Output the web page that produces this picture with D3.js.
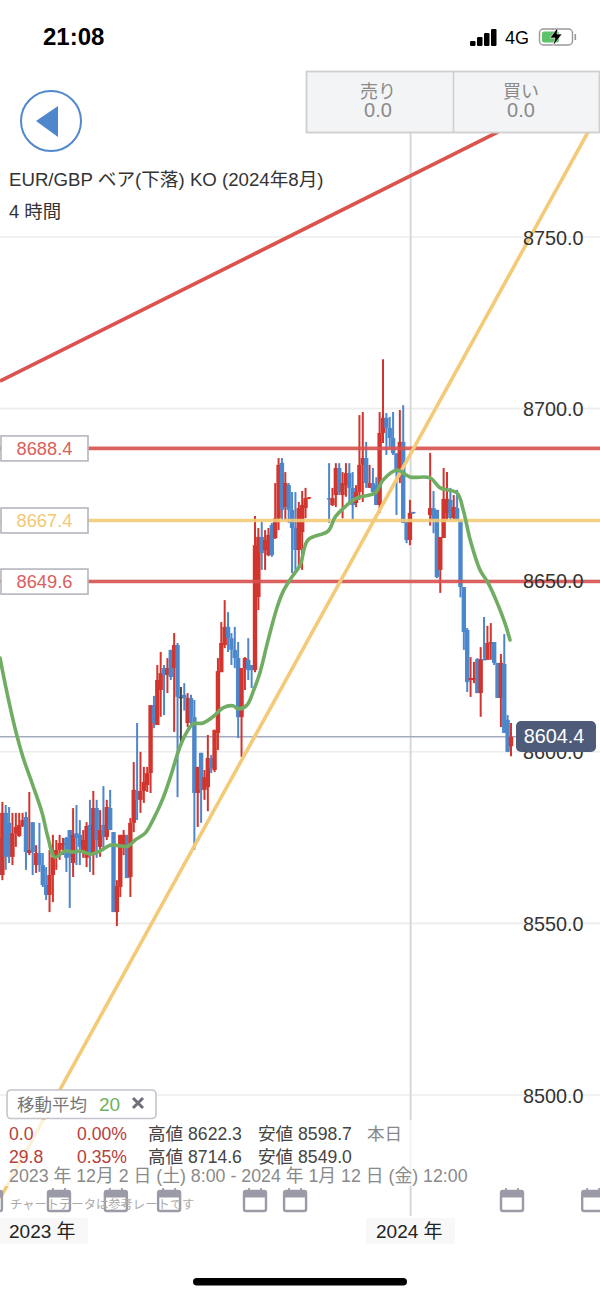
<!DOCTYPE html>
<html><head><meta charset="utf-8">
<script src="https://cdn.jsdelivr.net/npm/d3@7/dist/d3.min.js"></script>
<style>
html,body{margin:0;padding:0;background:#fff;overflow:hidden}
svg{display:block}
text{font-family:"Liberation Sans","Noto Sans CJK JP",sans-serif}
</style></head><body>
<svg id="c" width="600" height="1299"></svg>
<script>
const opens=[8574.9,8564.1,8582.2,8579.3,8569.4,8576.3,8575.5,8578.4,8581,8570.5,8579.5,8567,8570.5,8567,8561.2,8558.3,8564.1,8569.4,8571.4,8572.8,8574.9,8577.2,8567.6,8576.3,8575.8,8571.4,8569.1,8578.7,8569.9,8583.6,8572.3,8578.7,8575.2,8583.6,8576.6,8553.3,8560.6,8572.8,8572.8,8563.5,8579.3,8588.6,8586,8588.6,8590.3,8593.8,8613.6,8607.8,8618,8624.4,8622.4,8629.7,8624.4,8631.1,8616,8616.6,8608.4,8615.7,8610.1,8588,8599.7,8588.9,8589.7,8598.2,8594.7,8605.5,8623.2,8631.1,8636.4,8633.1,8629.7,8627.3,8610.1,8624.4,8626.8,8625.3,8623.8,8645.1,8662.6,8658.8,8657.3,8666.1,8662.3,8668,8684.2,8671.3,8677.7,8670.5,8665.2,8658.8,8664,8671,8673.9,null,null,null,null,null,8673.9,8671.9,8674.8,8682.7,8674.8,8677.7,8681.2,8676.9,8672.5,8675.7,8683.6,8685.6,8676.9,8678.3,8677.7,8671.9,8692.9,8697.3,8694.4,8691.4,8687,8680.6,8690.3,8667,8661.7,8669.9,null,null,null,null,8669,8671,8670.5,8653,8662.3,8669.6,8673.4,8668.1,8671,8667.5,8648,8635.5,8620.9,8620.9,8627,8617.1,8627,8626.8,8631.7,8632,8625.9,8615.7,8625.6,8609.3,8601.6];
const highs=[8578.1,8585.4,8584.5,8583.9,8582.2,8582.2,8582.2,8582.2,8582.5,8588.3,8579.5,8572.8,8579.3,8570.5,8566.4,8571.4,8575.8,8574.3,8575.8,8574.9,8575.2,8577.2,8583.6,8584.5,8580.1,8577.2,8579.5,8586,8588.6,8586,8583,8590,8586,8588.9,8576.6,8562.6,8575.8,8577.2,8575.8,8580.7,8597,8608.4,8600,8595.6,8595.6,8613.6,8616.3,8625.3,8629.1,8625.3,8627.3,8629.7,8634.6,8631.7,8618.9,8620,8617.1,8616.6,8615.1,8595.6,8599.7,8594.7,8604.9,8599.1,8606.4,8627.3,8637.8,8644.2,8640.7,8634.6,8636.4,8632,8624.4,8627.6,8633.1,8625.3,8668.7,8665.2,8667,8664.6,8665.2,8666.7,8678.3,8685.6,8685.6,8681.5,8678.3,8675.7,8675.7,8672.8,8676,8676.9,8674.2,null,null,null,null,null,8684.1,8676.9,8684.1,8684.1,8681.5,8684.1,8684.1,8681.5,8677.7,8698.1,8699,8690.3,8683.6,8682.7,8680,8699,8714.4,8698.7,8697.6,8699,8687,8699.6,8701,8667,8673.4,8669.9,null,null,null,null,8687.1,8676,8670.5,8662.6,8682.7,8681.5,8676.9,8674.8,8676.3,8667.5,8648,8636.1,8627.6,8626.2,8627.3,8630.5,8639.3,8636.7,8637.5,8632,8625.9,8628.5,8634.3,8610.7,8608.4];
const lows=[8554.8,8562.6,8565.6,8567.6,8567,8572.3,8575.2,8578.1,8565.6,8569.9,8564.1,8564.7,8565,8560.6,8556.8,8553.3,8556.2,8565.6,8568.5,8569.9,8565,8554.5,8563.5,8567,8567,8569.1,8566.4,8565,8564.1,8569.1,8569.4,8571.4,8574.3,8577.2,8553.3,8549.2,8557.7,8569.9,8563.2,8557.7,8576.6,8580.1,8582.2,8585.1,8588.3,8588,8606.9,8607.8,8610.2,8610.7,8617.1,8620.9,8605.8,8586.8,8602.6,8612,8607.2,8607.8,8571.4,8578.1,8579.3,8586,8582.7,8593.8,8594.1,8600.5,8623.2,8630.2,8629.1,8625.3,8624.4,8604,8598.5,8618,8620.9,8618.6,8623.2,8641.3,8653,8653,8657,8656.8,8662,8664.6,8667.5,8667.5,8666.7,8652.1,8653,8653.9,8653,8668.1,8673.6,null,null,null,null,null,8666.7,8671.6,8671.3,8674.8,8668,8674.3,8672.5,8667.5,8671.3,8673.4,8672.8,8676.9,8676.9,8675.4,8671.9,8669.6,8690,8686.5,8688.8,8686.5,8669,8678.3,8666.7,8660.8,8660.2,8669.3,null,null,null,null,8665.9,8663.7,8650.6,8646.3,8662.3,8667.5,8667.5,8667.5,8667.5,8645,8629.7,8617.4,8616,8620,8617.1,8610.2,8626.8,8626.8,8626.8,8625.3,8615.7,8607.2,8605.5,8599.9,8598.7];
const closes=[8564.1,8582.2,8569.4,8569.4,8576.3,8578.1,8578.7,8580.1,8570.8,8571.4,8570.8,8570.5,8567,8561.2,8558.3,8564.1,8569.4,8571.4,8573.4,8573.4,8569.1,8569.4,8575.8,8574.9,8572.3,8574.3,8578.4,8569.9,8583.6,8574.3,8577.2,8575.2,8583.9,8577.2,8553.3,8560.9,8575.8,8575.8,8563.2,8579.3,8588.9,8586,8588.6,8591.2,8593.8,8613.6,8608.4,8620.9,8622.9,8622.4,8624.4,8621.8,8631.1,8616,8616,8615.7,8615.7,8610.1,8588,8595.6,8588.9,8592.6,8598.2,8595.3,8606.4,8623.5,8631.7,8636.4,8633.1,8629.7,8627.3,8610.1,8624.4,8627.3,8623.8,8623.8,8660.2,8662.6,8657.9,8661.7,8663.2,8657.3,8668,8683.6,8670.5,8678.3,8670.5,8665.2,8658.8,8671,8671.9,8673.9,8674.2,null,null,null,null,null,8673.6,8673.9,8682.7,8675.7,8678.3,8681.2,8676.9,8671.9,8675.7,8683.6,8685.6,8678.3,8678.3,8675.7,8671.9,8692.9,8697.3,8694.4,8691.4,8687,8681.5,8690.3,8666.7,8661.7,8669.6,8669.6,null,null,null,null,8671,8667.5,8650.9,8662.6,8673.7,8673.7,8668.1,8671.3,8667.5,8648,8634.9,8620.3,8621.5,8621.5,8617.1,8627,8626.8,8631.7,8632,8625.9,8615.7,8625.9,8605.5,8600,8604.4];
const selectedCandle=54;
const maIndex=[.3,2.4,4.75,7.1,9.8,12.8,14.5,16.6,19.6,22,24,27,30,33,34.4,38.3,40.4,43.4,45.7,48.7,50.8,53.7,55.8,57.6,60.6,63.5,66.5,69.5,71,73.6,75.4,77.5,79.9,82.5,84.3,87,89.4,91.7,97.7,99.8,103.3,106.3,111.6,114,118.2,122,128,131,136,137.8,139.9,142.8,145.2,147.9,150.2,151.7];
const maValues=[8627.3,8617.1,8606.9,8598.5,8590.9,8582.2,8575.2,8569.3,8571.1,8570.8,8571.1,8570.2,8571.1,8572.8,8572.8,8572.5,8574.3,8576.3,8580.1,8586.5,8592.4,8601.4,8605.8,8608.1,8608.4,8610.2,8612.8,8613.4,8612.5,8613.6,8617.4,8623.2,8632.6,8641.9,8646.6,8651,8654.4,8661.7,8664.3,8668.4,8671.9,8674,8675.4,8679.2,8682.1,8680.1,8679.8,8676.9,8675.4,8670.5,8661.7,8653,8649.2,8643.4,8637.5,8632.6];
const yTicks=[8750,8700,8650,8600,8550,8500];
const levels=[8688.4,8667.4,8649.6];
const levelKinds=["red","yellow","red"];
const trendIndex=[[.3,148.2],[.3,174.9]];
const trendValues=[[8708,8780.6],[8469.9,8780.6]];
const trendKinds=["red","yellow"];
const lastPrice=8604.4;
const yearIndex=[122.2];
const yearLabels=["2023 年","2024 年"];
const eventIndex=[-2.4,17.8,34.7,50.5,76,87.9,152.3,176.4];
const summaryRows=[["0.0","0.00%","高値 8622.3","安値 8598.7","本日"],["29.8","0.35%","高値 8714.6","安値 8549.0",""]];
const dateRange="2023 年 12月 2 日 (土) 8:00 - 2024 年 1月 12 日 (金) 12:00";

const RED="#d2352d",BLUE="#4e87cb",YEL="#f3cb78",LRED="#d9534f",GREEN="#70ad64";
const x=d3.scaleLinear().domain([0,152]).range([-1,511]);
const y=d3.scaleLinear().domain([8500,8750]).range([1095,237]);
const svg=d3.select("#c");
const kind=k=>k==="red"?LRED:YEL;
const defs=svg.append("defs");
defs.append("filter").attr("id","soft").attr("x","-5%").attr("y","-5%").attr("width","110%").attr("height","110%")
 .append("feGaussianBlur").attr("stdDeviation",.45);
const plot=svg.append("g").attr("filter","url(#soft)");

// grid
plot.append("g").selectAll("line").data(yTicks).join("line")
 .attr("x1",0).attr("x2",600).attr("y1",d=>y(d)).attr("y2",d=>y(d))
 .attr("stroke","#ececec").attr("stroke-width",1.6);

// year separator
plot.append("g").selectAll("line").data(yearIndex).join("line")
 .attr("x1",d=>x(d)).attr("x2",d=>x(d)).attr("y1",133).attr("y2",1216)
 .attr("stroke","#d8d8d8").attr("stroke-width",2);

// last price line
plot.append("line").attr("x1",0).attr("x2",520).attr("y1",y(lastPrice)).attr("y2",y(lastPrice))
 .attr("stroke","#a3abc0").attr("stroke-width",1.5);

// candles
const idx=d3.range(opens.length).filter(i=>opens[i]!==null);
const col=i=>i===selectedCandle?"#444":(closes[i]>=opens[i]?RED:BLUE);
plot.append("g").selectAll("line").data(idx).join("line")
 .attr("x1",i=>x(i)).attr("x2",i=>x(i)).attr("y1",i=>y(highs[i])).attr("y2",i=>y(lows[i]))
 .attr("stroke",col).attr("stroke-width",2);
plot.append("g").selectAll("rect").data(idx).join("rect")
 .attr("x",i=>x(i)-2.2).attr("width",4.4)
 .attr("y",i=>y(Math.max(opens[i],closes[i])))
 .attr("height",i=>Math.max(1.4,Math.abs(y(opens[i])-y(closes[i]))))
 .attr("fill",col);

// horizontal levels
plot.append("g").selectAll("line").data(levels).join("line")
 .attr("x1",0).attr("x2",600).attr("y1",d=>y(d)).attr("y2",d=>y(d))
 .attr("stroke",(d,i)=>kind(levelKinds[i])).attr("stroke-width",3.6).attr("opacity",.9);

// trend lines
const line2=d3.line().x(d=>x(d[0])).y(d=>y(d[1]));
plot.append("g").selectAll("path").data(trendIndex).join("path")
 .attr("d",(d,i)=>line2(d.map((v,j)=>[v,trendValues[i][j]])))
 .attr("fill","none").attr("stroke-width",3.6)
 .attr("stroke",(d,i)=>kind(trendKinds[i]));

// moving average
plot.append("path").attr("fill","none").attr("stroke",GREEN).attr("stroke-width",3.6)
 .attr("stroke-linejoin","round").attr("stroke-linecap","round")
 .attr("d",d3.line().x(d=>x(d)).y((d,i)=>y(maValues[i])).curve(d3.curveCatmullRom.alpha(.5))(maIndex));

// y axis labels
const axis=d3.axisRight(y).tickValues(yTicks).tickFormat(d3.format(".1f")).tickSize(0).tickPadding(0);
const ga=svg.append("g").attr("transform","translate(523,0)").call(axis);
ga.select(".domain").remove();
ga.selectAll("text").attr("font-size",19.8).attr("fill","#333").attr("dy","0.36em");

// level tags
const tags=svg.append("g").selectAll("g").data(levels).join("g")
 .attr("transform",d=>`translate(0,${y(d)})`);
tags.append("rect").attr("x",1).attr("y",-12.5).attr("width",87).attr("height",25)
 .attr("fill","#fff").attr("stroke","#b5b5bf").attr("stroke-width",1.6);
tags.append("text").attr("x",44.5).attr("y",6.5).attr("text-anchor","middle").attr("font-size",18.3)
 .attr("fill",(d,i)=>levelKinds[i]==="red"?"#d9605c":"#f2c877").text(d=>d.toFixed(1));

// last price tag
svg.append("rect").attr("x",516).attr("y",721).attr("width",80).attr("height",31).attr("rx",5).attr("fill","#4f5c79");
svg.append("text").attr("x",554).attr("y",743).attr("text-anchor","middle").attr("font-size",19.8).attr("fill","#fff").text(lastPrice.toFixed(1));

// top bar
svg.append("rect").attr("x",0).attr("y",0).attr("width",600).attr("height",70).attr("fill","#fff");
svg.append("text").attr("x",43).attr("y",45).attr("font-size",24).attr("font-weight",700).attr("fill","#000").text("21:08");
const sig=[[470,41,5],[477,37,9],[484,33,13],[491,29,17]];
svg.append("g").selectAll("rect").data(sig).join("rect")
 .attr("x",d=>d[0]).attr("y",d=>d[1]).attr("width",5.5).attr("height",d=>d[2]).attr("rx",1.2).attr("fill","#000");
svg.append("text").attr("x",505).attr("y",44).attr("font-size",18).attr("fill","#000").text("4G");
svg.append("rect").attr("x",539.5).attr("y",29).attr("width",33).attr("height",16).attr("rx",4).attr("fill","#fff").attr("stroke","#999").attr("stroke-width",1.4);
svg.append("rect").attr("x",542).attr("y",31.5).attr("width",17).attr("height",11).attr("rx",2).attr("fill","#5ec269");
svg.append("path").attr("d","M558 27L550 38H555L553 46L562 34H557Z").attr("fill","#000").attr("stroke","#fff").attr("stroke-width",.6);
svg.append("rect").attr("x",574.5).attr("y",34).attr("width",1.6).attr("height",6).attr("fill","#999");

// sell/buy box
svg.append("rect").attr("x",306.5).attr("y",71.5).attr("width",293).attr("height",61).attr("fill","#f3f4f6").attr("stroke","#cfcfcf").attr("stroke-width",1.8);
svg.append("line").attr("x1",453.5).attr("x2",453.5).attr("y1",71).attr("y2",133).attr("stroke","#cfcfcf").attr("stroke-width",1.5);
[[378,"売り"],[521,"買い"]].forEach(d=>{
 svg.append("text").attr("x",d[0]).attr("y",98).attr("text-anchor","middle").attr("font-size",18).attr("fill","#8a8a8a").text(d[1]);
 svg.append("text").attr("x",d[0]).attr("y",117).attr("text-anchor","middle").attr("font-size",20).attr("fill","#8a8a8a").text("0.0");
});

// back button
svg.append("circle").attr("cx",51).attr("cy",121).attr("r",30).attr("fill","#fff").attr("stroke","#5189cc").attr("stroke-width",2);
svg.append("path").attr("d","M58 106V137L36 121Z").attr("fill","#4e87cb");

// title
svg.append("text").attr("x",9).attr("y",186).attr("font-size",18.65).attr("fill","#333").text("EUR/GBP ベア(下落) KO (2024年8月)");
svg.append("text").attr("x",9).attr("y",218).attr("font-size",18.4).attr("fill","#333").text("4 時間");

// bottom info
svg.append("rect").attr("x",0).attr("y",1120).attr("width",480).attr("height",66).attr("fill","#fff").attr("opacity",.72);
const lg=svg.append("g");
lg.append("rect").attr("x",7).attr("y",1090).attr("width",149).attr("height",28.5).attr("rx",4).attr("fill","#fff").attr("stroke","#c4c4cc").attr("stroke-width",1.6);
lg.append("text").attr("x",17).attr("y",1111).attr("font-size",17.5).attr("fill","#777").text("移動平均");
lg.append("text").attr("x",99).attr("y",1111).attr("font-size",19).attr("fill","#70b060").text("20");
lg.append("path").attr("d","M133 1098L143 1108M143 1098L133 1108").attr("stroke","#6f6f7c").attr("stroke-width",3);
summaryRows.forEach((r,i)=>{
 const yy=1140+i*23;
 const xs=[9,77,148,258,367];
 const cs=["#b5403c","#b5403c","#444","#444","#888"];
 r.forEach((t,j)=>svg.append("text").attr("x",xs[j]).attr("y",yy).attr("font-size",17.6).attr("fill",cs[j]).text(t));
});
svg.append("text").attr("x",9).attr("y",1182).attr("font-size",17.8).attr("fill","#8a8a8a").text(dateRange);

// event markers
const ev=svg.append("g").selectAll("g").data(eventIndex).join("g").attr("transform",d=>`translate(${x(d)},1200)`);
ev.append("rect").attr("x",-11).attr("y",-9).attr("width",22).attr("height",20).attr("rx",2).attr("fill","none").attr("stroke","#9b9ba8").attr("stroke-width",2.4);
ev.append("rect").attr("x",-11).attr("y",-9).attr("width",22).attr("height",6.5).attr("fill","#9b9ba8");
ev.append("line").attr("x1",-6).attr("x2",-6).attr("y1",-12).attr("y2",-7).attr("stroke","#9b9ba8").attr("stroke-width",1.8);
ev.append("line").attr("x1",6).attr("x2",6).attr("y1",-12).attr("y2",-7).attr("stroke","#9b9ba8").attr("stroke-width",1.8);
svg.append("text").attr("x",10).attr("y",1209).attr("font-size",12.3).attr("fill","#aaa").text("チャートデータは参考レートです");

// year labels
[[0,yearLabels[0],88,9],[366,yearLabels[1],89,376]].forEach(d=>{
 svg.append("rect").attr("x",d[0]).attr("y",1218).attr("width",d[2]).attr("height",26).attr("fill","#f8f8f8");
 svg.append("text").attr("x",d[3]).attr("y",1238).attr("font-size",19).attr("fill","#222").text(d[1]);
});

// home indicator
svg.append("rect").attr("x",193).attr("y",1278).attr("width",214).attr("height",7.5).attr("rx",3.75).attr("fill","#000");
</script>
</body></html>
